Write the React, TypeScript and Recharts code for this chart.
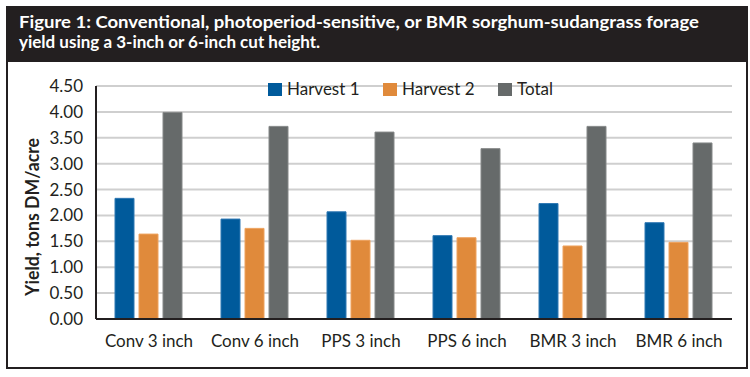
import React from "react";
import { BarChart, Bar, XAxis, YAxis, CartesianGrid, Legend } from "recharts";

const categories = ["Conv 3 inch", "Conv 6 inch", "PPS 3 inch", "PPS 6 inch", "BMR 3 inch", "BMR 6 inch"];
const harvest1 = [2.33, 1.93, 2.07, 1.61, 2.23, 1.86];
const harvest2 = [1.64, 1.75, 1.52, 1.57, 1.41, 1.48];
const total = [3.99, 3.72, 3.61, 3.29, 3.72, 3.4];
const yTicks = [0, 0.5, 1, 1.5, 2, 2.5, 3, 3.5, 4, 4.5];

const seriesNames = ["Harvest 1", "Harvest 2", "Total"];
const seriesColors = ["#005a9b", "#e08a3b", "#666a6a"];
const seriesStrokes = ["#2f78b3", "#eea25e", "#858888"];

const data = categories.map((c, i) => ({
  name: c,
  h1: harvest1[i],
  h2: harvest2[i],
  total: total[i],
}));

const FONT = "Lato, 'Open Sans', sans-serif";
const INK = "#231f20";

const LegendContent = () => (
  <div style={{ position: "relative", width: 750, height: 20, fontFamily: FONT }}>
    {seriesNames.map((n, i) => (
      <div
        key={n}
        style={{
          position: "absolute",
          left: 268 + i * 115,
          top: 0,
          display: "flex",
          alignItems: "center",
          height: 20,
        }}
      >
        <div style={{ width: 14, height: 13, background: seriesColors[i], marginRight: 5 }} />
        <span style={{ fontSize: 17, color: INK, lineHeight: "20px" }}>{n}</span>
      </div>
    ))}
  </div>
);

const YLabel = () => (
  <text
    x={39}
    y={217}
    transform="rotate(-90 39 217)"
    textAnchor="middle"
    fontFamily={FONT}
    fontWeight={700}
    fontSize={18}
    fill={INK}
    textLength={158}
    lengthAdjust="spacingAndGlyphs"
  >
    Yield, tons DM/acre
  </text>
);

export default function App() {
  return (
    <div style={{ position: "absolute", left: 0, top: 0, width: 750, height: 377, background: "#fff" }}>
      <div
        style={{
          position: "absolute",
          left: 6,
          top: 6,
          width: 738,
          height: 359,
          border: `2px solid ${INK}`,
          boxSizing: "content-box",
        }}
      />
      <svg style={{ position: "absolute", left: 0, top: 0 }} width={750} height={70}>
        <rect x={6} y={6} width={740} height={56} fill={INK} />
        <text
          x={19}
          y={28}
          fill="#fff"
          fontFamily={FONT}
          fontWeight={700}
          fontSize={17}
          textLength={680}
          lengthAdjust="spacingAndGlyphs"
        >
          Figure 1: Conventional, photoperiod-sensitive, or BMR sorghum-sudangrass forage
        </text>
        <text x={19} y={48} fill="#fff" fontFamily={FONT} fontWeight={700} fontSize={17}>
          yield using a 3-inch or 6-inch cut height.
        </text>
      </svg>
      <div style={{ position: "absolute", left: 0, top: 0 }}>
        <BarChart
          width={750}
          height={377}
          data={data}
          margin={{ top: 86, right: 18, bottom: 28, left: 0 }}
          barCategoryGap={19}
          barGap={5}
        >
          <CartesianGrid vertical={false} stroke="#cfcfcf" strokeWidth={2} />
          <XAxis
            dataKey="name"
            height={30}
            tickLine={false}
            axisLine={{ stroke: INK, strokeWidth: 2 }}
            tick={{ fontFamily: FONT, fontSize: 17, fill: INK }}
            tickMargin={10}
            interval={0}
          />
          <YAxis
            width={96}
            domain={[0, 4.5]}
            ticks={yTicks}
            tickFormatter={(v: number) => v.toFixed(2)}
            tickLine={false}
            axisLine={{ stroke: INK, strokeWidth: 2 }}
            tick={{ fontFamily: FONT, fontSize: 17, fill: INK }}
            tickMargin={7}
            interval={0}
            label={<YLabel />}
          />
          <Legend
            verticalAlign="middle"
            layout="horizontal"
            content={<LegendContent />}
            wrapperStyle={{ position: "absolute", top: 79, left: 0, width: 750 }}
          />
          <Bar dataKey="h1" name={seriesNames[0]} fill={seriesColors[0]} stroke={seriesStrokes[0]} strokeWidth={1} isAnimationActive={false} />
          <Bar dataKey="h2" name={seriesNames[1]} fill={seriesColors[1]} stroke={seriesStrokes[1]} strokeWidth={1} isAnimationActive={false} />
          <Bar dataKey="total" name={seriesNames[2]} fill={seriesColors[2]} stroke={seriesStrokes[2]} strokeWidth={1} isAnimationActive={false} />
        </BarChart>
      </div>
    </div>
  );
}
